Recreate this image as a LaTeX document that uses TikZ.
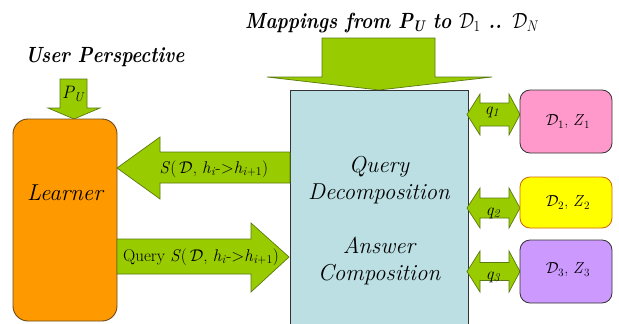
\documentclass[tikz,border=0pt]{standalone}
\usepackage{fix-cm}
\usepackage{fontspec}
\usepackage{graphicx}
\newcommand\tnr{\rmfamily}
\newcommand\hdsq[1]{\scalebox{0.86}[1]{#1}}
\definecolor{arrgreen}{HTML}{99CC00}
\definecolor{arredge}{HTML}{5A7A10}
\definecolor{learnorange}{HTML}{FF9900}
\definecolor{learnedge}{HTML}{6B4A1A}
\definecolor{boxcyan}{HTML}{BBDFE3}
\definecolor{boxpink}{HTML}{FF99CC}
\definecolor{boxyellow}{HTML}{FFFF00}
\definecolor{yedge}{HTML}{CC6600}
\definecolor{boxpurple}{HTML}{CC99FF}
\newcommand\lsub[1]{\textsubscript{#1}}
\tikzset{
  blockarrow/.style={fill=arrgreen, draw=arredge, line width=0.7pt, line join=miter},
  srcbox/.style={draw=black!80, line width=0.8pt, rounded corners=10pt},
  bigtxt/.style={font=\tnr\fontsize{23}{27}\selectfont\itshape, align=center, inner sep=0pt},
  headtxt/.style={font=\tnr\fontsize{22}{26}\selectfont\bfseries\itshape, inner sep=0pt},
  arrtxt/.style={font=\tnr\fontsize{17}{20}\selectfont, inner sep=0pt},
  qtxt/.style={font=\tnr\fontsize{17}{20}\selectfont\itshape, inner sep=0pt},
  dtxt/.style={font=\tnr\fontsize{16}{20}\selectfont, inner sep=0pt}
}
\newcommand\qarrow[3]{% center y, head half height, shaft half height
  \path[blockarrow] (467,#1) -- (480,#1-#2) -- (480,#1-#3) -- (509,#1-#3) -- (509,#1-#2)
    -- (520,#1) -- (509,#1+#2) -- (509,#1+#3) -- (480,#1+#3) -- (480,#1+#2) -- cycle;
}
\begin{document}
\begin{tikzpicture}[x=1pt,y=-1pt]
\clip (0,0) rectangle (619,324);
\fill[white] (0,0) rectangle (619,324);

% titles
\node[headtxt, anchor=base] (userp) at (105,62) {\hdsq{User Perspective}};
\node[headtxt, anchor=base west] (maps) at (245,28)
  {\hdsq{Mappings from \textit{P}\lsub{\textit{U}} to $\mathcal{D}_1$ .. $\mathcal{D}_N$}};

% big down arrow
\path[blockarrow] (322,38) -- (435,38) -- (435,77) -- (492,77) -- (379,90) -- (267,77) -- (322,77) -- cycle;

% P_U arrow
\path[blockarrow] (60,79) -- (87,79) -- (87,108) -- (100,108) -- (74,119) -- (48,108) -- (60,108) -- cycle;
\node[font=\tnr\fontsize{18}{20}\selectfont\itshape, inner sep=0pt] (pu) at (73,94) {P\lsub{U}};

% Learner
\draw[fill=learnorange, draw=learnedge, line width=0.9pt, rounded corners=15pt] (13,119) rectangle (117,321);
\node[bigtxt] (learner) at (65,193) {Learner};

% central box
\draw[fill=boxcyan, draw=black!80, line width=0.9pt] (290,90) rectangle (468,340);
\node[bigtxt] (qd) at (379,180) {Query\\Decomposition};
\node[bigtxt] (ac) at (379,261) {Answer\\Composition};

% S arrow (to learner)
\path[blockarrow] (290,152) -- (160,152) -- (160,137) -- (117,168) -- (160,199) -- (160,183) -- (290,183) -- cycle;
\node[arrtxt] (slab) at (214,169) {\textit{S}(\,$\mathcal{D}$, \textit{h}\lsub{\textit{i}}->\textit{h}\lsub{\textit{i}+1})};

% Query arrow
\path[blockarrow] (117,239) -- (251,239) -- (251,223) -- (289,257) -- (251,292) -- (251,274) -- (117,274) -- cycle;
\node[arrtxt] (qlab) at (201,257) {Query \textit{S}(\,$\mathcal{D}$, \textit{h}\lsub{\textit{i}}->\textit{h}\lsub{\textit{i}+1})};

% source double arrows
\qarrow{114.5}{20.5}{11.5}
\qarrow{208}{20}{10}
\qarrow{271.5}{20.5}{9}
\node[qtxt] (q1) at (492,112) {q\lsub{1}};
\node[qtxt] (q2) at (493,213) {q\lsub{2}};
\node[qtxt] (q3) at (493,277) {q\lsub{3}};

% sources
\draw[srcbox, fill=boxpink] (520,90) rectangle (612,153);
\draw[srcbox, fill=boxyellow, draw=yedge] (520,177) rectangle (612,228);
\draw[srcbox, fill=boxpurple] (520,240) rectangle (612,303);
\node[dtxt] (d1) at (568,122) {$\mathcal{D}_1$, \textit{Z}\lsub{1}};
\node[dtxt] (d2) at (568,203) {$\mathcal{D}_2$, \textit{Z}\lsub{2}};
\node[dtxt] (d3) at (568,270) {$\mathcal{D}_3$, \textit{Z}\lsub{3}};
\end{tikzpicture}
\end{document}
